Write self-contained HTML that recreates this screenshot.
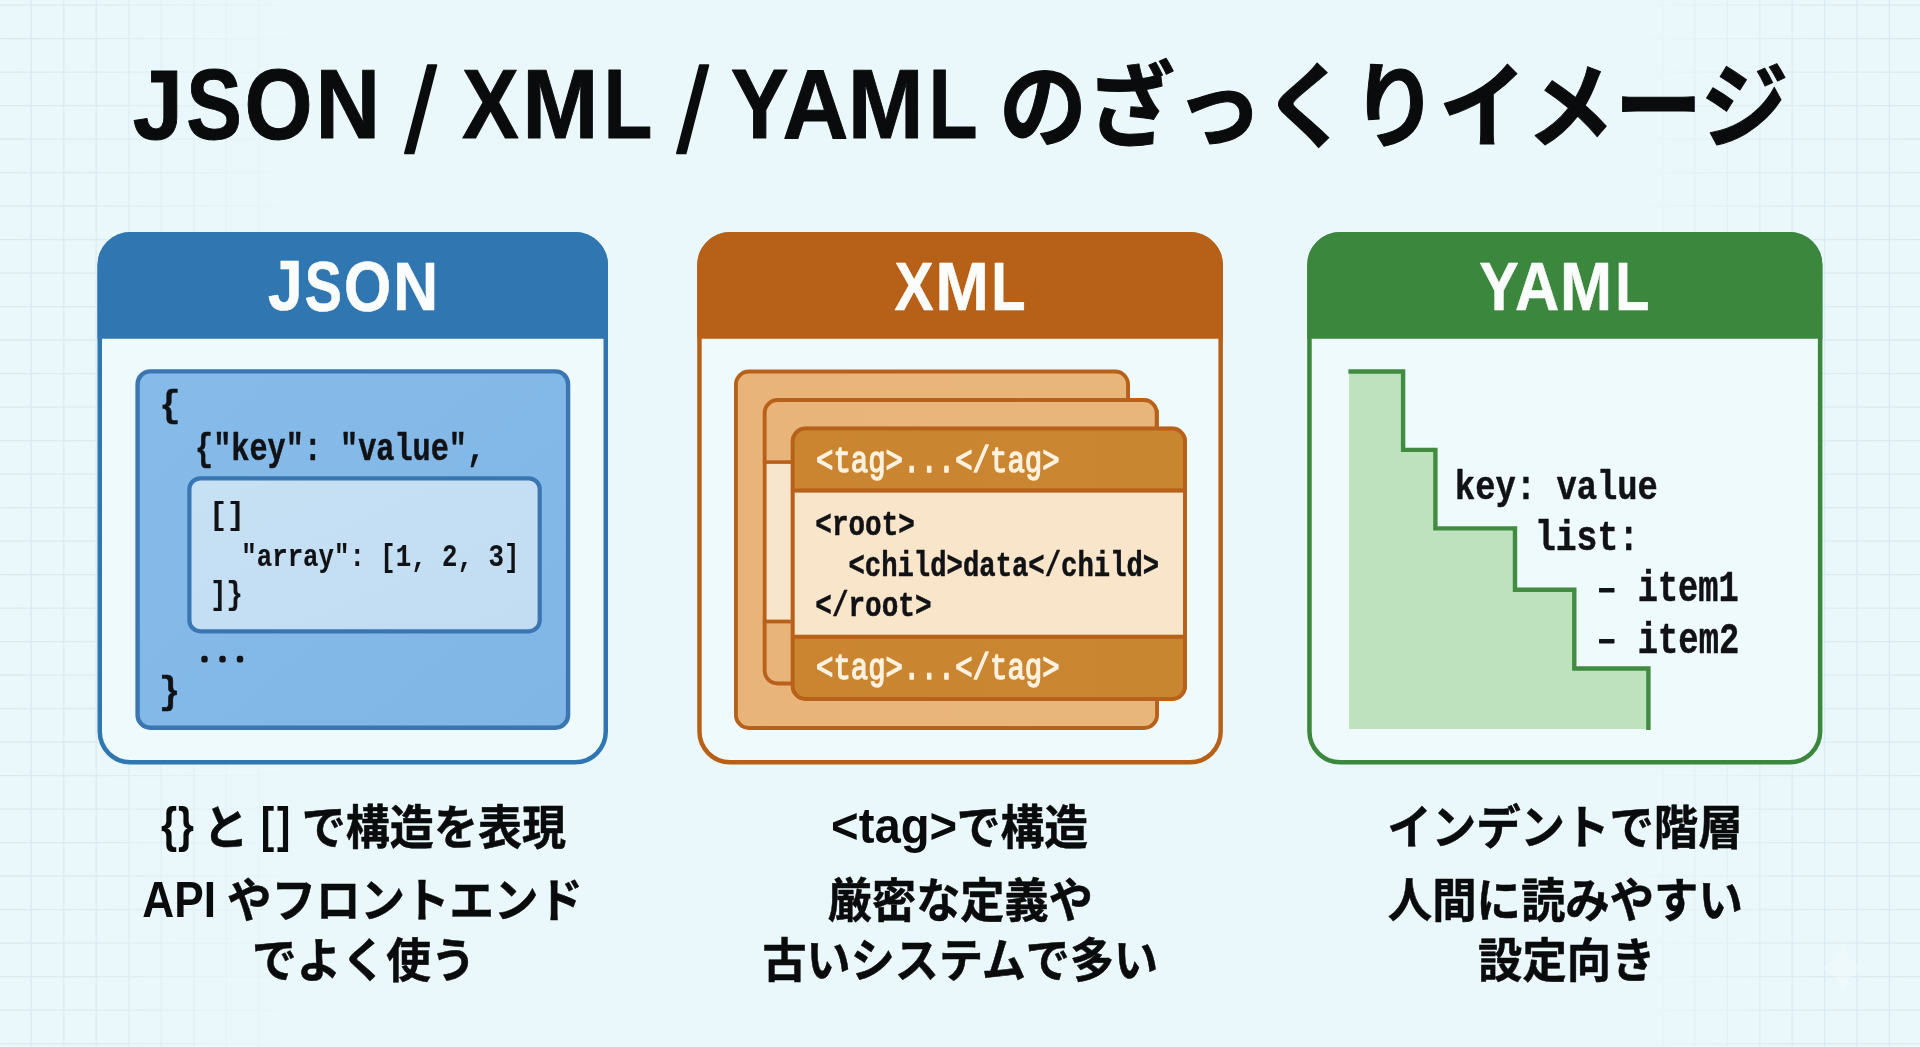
<!DOCTYPE html>
<html lang="ja">
<head>
<meta charset="utf-8">
<title>JSON / XML / YAML のざっくりイメージ</title>
<style>
html,body{margin:0;padding:0;background:#eaf8fb;overflow:hidden}
svg{display:block;will-change:transform}
text{white-space:pre}
</style>
</head>
<body>
<svg width="1920" height="1047" viewBox="0 0 1920 1047">
<rect width="1920" height="1047" fill="#eaf8fb"/>
<defs>
<linearGradient id="gb" x1="0" y1="0" x2="1" y2="1"><stop offset="0" stop-color="#86bbe9"/><stop offset="1" stop-color="#80b6e6"/></linearGradient>
<linearGradient id="gl" x1="0" y1="0" x2="1" y2="1"><stop offset="0" stop-color="#c6e0f4"/><stop offset="1" stop-color="#c2ddf2"/></linearGradient>
<linearGradient id="go" x1="0" y1="0" x2="1" y2="0"><stop offset="0" stop-color="#e9b479"/><stop offset="1" stop-color="#e8b67b"/></linearGradient>
<linearGradient id="gh" x1="0" y1="0" x2="1" y2="0"><stop offset="0" stop-color="#cb8530"/><stop offset="1" stop-color="#c98631"/></linearGradient>
<linearGradient id="gr" gradientUnits="userSpaceOnUse" x1="0" y1="0" x2="1920" y2="0"><stop offset="0" stop-color="#fff"/><stop offset="0.05" stop-color="#ddd"/><stop offset="0.16" stop-color="#000"/><stop offset="0.85" stop-color="#000"/><stop offset="0.93" stop-color="#ccc"/><stop offset="1" stop-color="#fff"/></linearGradient>
<mask id="gm" maskUnits="userSpaceOnUse" x="0" y="0" width="1920" height="1047"><rect width="1920" height="1047" fill="url(#gr)"/></mask>
</defs>
<g stroke="#d9e9f0" stroke-width="1.3" fill="none" mask="url(#gm)">
<path d="M31.2 0V1047M63.8 0V1047M96.2 0V1047M128.8 0V1047M161.2 0V1047M193.8 0V1047M226.2 0V1047M258.8 0V1047M291.2 0V1047M323.8 0V1047M356.2 0V1047M388.8 0V1047M1565.4 0V1047M1597.8 0V1047M1630.2 0V1047M1662.6 0V1047M1695.0 0V1047M1727.4 0V1047M1759.8 0V1047M1792.2 0V1047M1824.6 0V1047M1857.0 0V1047M1889.4 0V1047M0 5.2H1920M0 38.7H1920M0 72.2H1920M0 105.7H1920M0 139.2H1920M0 172.7H1920M0 206.2H1920M0 239.7H1920M0 273.2H1920M0 306.7H1920M0 340.2H1920M0 373.7H1920M0 407.2H1920M0 440.7H1920M0 474.2H1920M0 507.7H1920M0 541.2H1920M0 574.7H1920M0 608.2H1920M0 641.7H1920M0 675.2H1920M0 708.7H1920M0 742.2H1920M0 775.7H1920M0 809.2H1920M0 842.7H1920M0 876.2H1920M0 909.7H1920M0 943.2H1920M0 976.7H1920M0 1010.2H1920M0 1043.7H1920"/>
</g>
<path d="M1843 940 C1846 958 1853 965 1871 968 C1853 971 1846 978 1843 996 C1840 978 1833 971 1815 968 C1833 965 1840 958 1843 940 Z" fill="#f4fbfd" opacity="0.45"/>
<rect x="99.75" y="234.25" width="506.00" height="528.10" rx="30.75" fill="#eefafc" stroke="#3077b2" stroke-width="4.5"/>
<path d="M97.50 338.7 V265.00 A33 33 0 0 1 130.50 232 H575.00 A33 33 0 0 1 608.00 265.00 V338.7 Z" fill="#3077b2"/>
<rect x="137.60" y="371.40" width="430.50" height="356.40" rx="12.80" fill="url(#gb)" stroke="#3a76b2" stroke-width="4.4"/>
<rect x="189.40" y="478.30" width="350.30" height="153.00" rx="10.90" fill="url(#gl)" stroke="#3a76b2" stroke-width="4.2"/>
<rect x="699.45" y="234.25" width="521.20" height="528.10" rx="30.75" fill="#eefafc" stroke="#b76018" stroke-width="4.5"/>
<path d="M697.20 338.7 V265.00 A33 33 0 0 1 730.20 232 H1189.90 A33 33 0 0 1 1222.90 265.00 V338.7 Z" fill="#b76018"/>
<path d="M735.95 384.45 A13 13 0 0 1 748.95 371.45 H1115.05 A13 13 0 0 1 1128.05 384.45 V412 H1157.05 V715.05 A13 13 0 0 1 1144.05 728.05 H748.95 A13 13 0 0 1 735.95 715.05 Z" fill="url(#go)" stroke="#b8611a" stroke-width="3.9"/>
<clipPath id="cm"><rect x="762.7" y="398" width="395.9" height="287.5" rx="15"/></clipPath>
<g clip-path="url(#cm)"><rect x="762.7" y="398" width="395.9" height="287.5" fill="url(#go)"/><rect x="762.7" y="462" width="395.9" height="159.5" fill="#f8e6cc"/><rect x="762.7" y="460.3" width="395.9" height="3.6" fill="#b8611a"/><rect x="762.7" y="619.6" width="395.9" height="3.8" fill="#b8611a"/></g>
<rect x="764.65" y="399.95" width="392.00" height="283.60" rx="13.05" fill="none" stroke="#b8611a" stroke-width="3.9"/>
<clipPath id="cf"><rect x="790.7" y="426.5" width="396.3" height="274.5" rx="15"/></clipPath>
<g clip-path="url(#cf)"><rect x="790.7" y="426.5" width="396.3" height="274.5" fill="url(#gh)"/><rect x="790.7" y="490" width="396.3" height="147" fill="#f8e5ca"/><rect x="790.7" y="488.4" width="396.3" height="4.2" fill="#b8611a"/><rect x="790.7" y="634.7" width="396.3" height="4.1" fill="#b8611a"/></g>
<rect x="792.70" y="428.50" width="392.30" height="270.50" rx="13.00" fill="none" stroke="#b8611a" stroke-width="4.0"/>
<rect x="1309.45" y="234.25" width="510.70" height="528.10" rx="30.75" fill="#eefafc" stroke="#3c873e" stroke-width="4.5"/>
<path d="M1307.20 338.7 V265.00 A33 33 0 0 1 1340.20 232 H1789.40 A33 33 0 0 1 1822.40 265.00 V338.7 Z" fill="#3c873e"/>
<path d="M1349 371.5 H1403.1 V449.9 H1435.4 V528.4 H1515 V589.7 H1574.3 V668.5 H1648.4 V729 H1349 Z" fill="#bde2bd"/>
<path d="M1348.4 371.5 H1403.1 V449.9 H1435.4 V528.4 H1515 V589.7 H1574.3 V668.5 H1648.4 V730" fill="none" stroke="#428c42" stroke-width="4.4" stroke-linejoin="miter"/>
<text font-family="'Liberation Sans', 'Noto Sans CJK JP', sans-serif" font-weight="700" fill="#0a0b0d" stroke="#0a0b0d" stroke-width="1.0" stroke-linejoin="round"><tspan x="132.80" y="138.51" font-size="99.00" textLength="50.22" lengthAdjust="spacingAndGlyphs">J</tspan><tspan x="186.22" y="138.81" font-size="99.44" textLength="55.65" lengthAdjust="spacingAndGlyphs">S</tspan><tspan x="244.44" y="138.81" font-size="99.44" textLength="68.07" lengthAdjust="spacingAndGlyphs">O</tspan><tspan x="315.44" y="138.30" font-size="98.26" textLength="64.62" lengthAdjust="spacingAndGlyphs">N</tspan> <tspan x="404.76" y="152.30" font-size="120.00" textLength="31.80" lengthAdjust="spacingAndGlyphs" font-weight="400" stroke-width="1.6">/</tspan> <tspan x="462.08" y="138.30" font-size="98.26" textLength="56.81" lengthAdjust="spacingAndGlyphs">X</tspan><tspan x="522.32" y="138.30" font-size="98.26" textLength="76.25" lengthAdjust="spacingAndGlyphs">M</tspan><tspan x="603.51" y="138.30" font-size="98.26" textLength="48.85" lengthAdjust="spacingAndGlyphs">L</tspan> <tspan x="676.76" y="152.30" font-size="120.00" textLength="31.80" lengthAdjust="spacingAndGlyphs" font-weight="400" stroke-width="1.6">/</tspan> <tspan x="730.71" y="138.30" font-size="98.26" textLength="57.83" lengthAdjust="spacingAndGlyphs">Y</tspan><tspan x="782.38" y="138.30" font-size="98.26" textLength="65.94" lengthAdjust="spacingAndGlyphs">A</tspan><tspan x="847.84" y="138.30" font-size="98.26" textLength="75.89" lengthAdjust="spacingAndGlyphs">M</tspan><tspan x="928.49" y="138.30" font-size="98.26" textLength="49.08" lengthAdjust="spacingAndGlyphs">L</tspan> <tspan x="999.06" y="140.00" font-size="93.50" textLength="789.50" lengthAdjust="spacingAndGlyphs">のざっくりイメージ</tspan></text>
<text font-family="'Liberation Sans', 'Noto Sans CJK JP', sans-serif" font-weight="700" fill="#fbfdfc" stroke="#fbfdfc" stroke-width="0.6" stroke-linejoin="round"><tspan x="267.93" y="310.40" font-size="69.71" textLength="34.62" lengthAdjust="spacingAndGlyphs">J</tspan><tspan x="304.87" y="310.60" font-size="69.86" textLength="37.16" lengthAdjust="spacingAndGlyphs">S</tspan><tspan x="344.03" y="310.60" font-size="69.86" textLength="47.21" lengthAdjust="spacingAndGlyphs">O</tspan><tspan x="393.33" y="310.40" font-size="69.28" textLength="44.88" lengthAdjust="spacingAndGlyphs">N</tspan></text>
<text font-family="'Liberation Sans', 'Noto Sans CJK JP', sans-serif" font-weight="700" fill="#fbfdfc" stroke="#fbfdfc" stroke-width="0.6" stroke-linejoin="round"><tspan x="894.47" y="310.40" font-size="69.28" textLength="39.08" lengthAdjust="spacingAndGlyphs">X</tspan><tspan x="935.41" y="310.40" font-size="69.28" textLength="53.37" lengthAdjust="spacingAndGlyphs">M</tspan><tspan x="991.29" y="310.40" font-size="69.28" textLength="34.30" lengthAdjust="spacingAndGlyphs">L</tspan></text>
<text font-family="'Liberation Sans', 'Noto Sans CJK JP', sans-serif" font-weight="700" fill="#fbfdfc" stroke="#fbfdfc" stroke-width="0.6" stroke-linejoin="round"><tspan x="1479.27" y="310.40" font-size="69.28" textLength="39.48" lengthAdjust="spacingAndGlyphs">Y</tspan><tspan x="1515.03" y="310.40" font-size="69.28" textLength="44.27" lengthAdjust="spacingAndGlyphs">A</tspan><tspan x="1560.11" y="310.40" font-size="69.28" textLength="52.08" lengthAdjust="spacingAndGlyphs">M</tspan><tspan x="1615.21" y="310.40" font-size="69.28" textLength="34.18" lengthAdjust="spacingAndGlyphs">L</tspan></text>
<text font-family="'Liberation Mono', 'Noto Sans CJK JP', monospace" font-weight="700" fill="#101215" stroke="#101215" stroke-width="0.5" stroke-linejoin="round"><tspan x="159.51" y="415.71" font-size="37.33" textLength="21.01" lengthAdjust="spacingAndGlyphs">{</tspan></text>
<text font-family="'Liberation Mono', 'Noto Sans CJK JP', monospace" font-weight="700" fill="#101215" stroke="#101215" stroke-width="0.5" stroke-linejoin="round"><tspan x="195.03" y="460.00" font-size="38.00" textLength="290.07" lengthAdjust="spacingAndGlyphs">{"key": "value",</tspan></text>
<text font-family="'Liberation Mono', 'Noto Sans CJK JP', monospace" font-weight="700" fill="#101215" stroke="#101215" stroke-width="0.2" stroke-linejoin="round"><tspan x="209.15" y="524.21" font-size="31.87" textLength="35.60" lengthAdjust="spacingAndGlyphs">[]</tspan></text>
<text font-family="'Liberation Mono', 'Noto Sans CJK JP', monospace" font-weight="700" fill="#101215" stroke="#101215" stroke-width="0.1" stroke-linejoin="round"><tspan x="241.32" y="565.60" font-size="32.00" textLength="278.02" lengthAdjust="spacingAndGlyphs">"array": [1, 2, 3]</tspan></text>
<text font-family="'Liberation Mono', 'Noto Sans CJK JP', monospace" font-weight="700" fill="#101215" stroke="#101215" stroke-width="0.2" stroke-linejoin="round"><tspan x="210.30" y="603.87" font-size="33.48" textLength="32.50" lengthAdjust="spacingAndGlyphs">]}</tspan></text>
<text font-family="'Liberation Mono', 'Noto Sans CJK JP', monospace" font-weight="700" fill="#101215" stroke="#101215" stroke-width="0.5" stroke-linejoin="round"><tspan x="158.95" y="702.62" font-size="38.72" textLength="21.18" lengthAdjust="spacingAndGlyphs">}</tspan></text>
<text font-family="'Liberation Mono', 'Noto Sans CJK JP', monospace" font-weight="400" fill="#fdf1df" stroke="#fdf1df" stroke-width="1.5" stroke-linejoin="round"><tspan x="815.98" y="472.00" font-size="37.50" textLength="243.67" lengthAdjust="spacingAndGlyphs">&lt;tag&gt;...&lt;/tag&gt;</tspan></text>
<text font-family="'Liberation Mono', 'Noto Sans CJK JP', monospace" font-weight="700" fill="#101215" stroke="#101215" stroke-width="0.5" stroke-linejoin="round"><tspan x="815.32" y="535.00" font-size="35.00" textLength="99.49" lengthAdjust="spacingAndGlyphs">&lt;root&gt;</tspan></text>
<text font-family="'Liberation Mono', 'Noto Sans CJK JP', monospace" font-weight="700" fill="#101215" stroke="#101215" stroke-width="0.5" stroke-linejoin="round"><tspan x="848.43" y="576.00" font-size="35.00" textLength="310.79" lengthAdjust="spacingAndGlyphs">&lt;child&gt;data&lt;/child&gt;</tspan></text>
<text font-family="'Liberation Mono', 'Noto Sans CJK JP', monospace" font-weight="700" fill="#101215" stroke="#101215" stroke-width="0.5" stroke-linejoin="round"><tspan x="815.31" y="616.20" font-size="35.00" textLength="116.19" lengthAdjust="spacingAndGlyphs">&lt;/root&gt;</tspan></text>
<text font-family="'Liberation Mono', 'Noto Sans CJK JP', monospace" font-weight="400" fill="#fdf1df" stroke="#fdf1df" stroke-width="1.5" stroke-linejoin="round"><tspan x="815.98" y="678.50" font-size="37.50" textLength="243.67" lengthAdjust="spacingAndGlyphs">&lt;tag&gt;...&lt;/tag&gt;</tspan></text>
<text font-family="'Liberation Mono', 'Noto Sans CJK JP', monospace" font-weight="700" fill="#101215" stroke="#101215" stroke-width="0.5" stroke-linejoin="round"><tspan x="1454.83" y="498.80" font-size="41.50" textLength="203.10" lengthAdjust="spacingAndGlyphs">key: value</tspan></text>
<text font-family="'Liberation Mono', 'Noto Sans CJK JP', monospace" font-weight="700" fill="#101215" stroke="#101215" stroke-width="0.5" stroke-linejoin="round"><tspan x="1534.98" y="550.00" font-size="43.00" textLength="104.11" lengthAdjust="spacingAndGlyphs">list:</tspan></text>
<text font-family="'Liberation Mono', 'Noto Sans CJK JP', monospace" font-weight="400" fill="#101215" stroke="#101215" stroke-width="0.9" stroke-linejoin="round"><tspan x="1591.05" y="601.60" font-size="44.00" textLength="31.61" lengthAdjust="spacingAndGlyphs">-</tspan> <tspan x="1637.78" y="601.40" font-size="44.00" textLength="100.80" lengthAdjust="spacingAndGlyphs" font-weight="700" stroke-width="0.5">item1</tspan></text>
<text font-family="'Liberation Mono', 'Noto Sans CJK JP', monospace" font-weight="400" fill="#101215" stroke="#101215" stroke-width="0.9" stroke-linejoin="round"><tspan x="1591.05" y="652.90" font-size="44.00" textLength="31.61" lengthAdjust="spacingAndGlyphs">-</tspan> <tspan x="1637.76" y="652.70" font-size="44.00" textLength="101.49" lengthAdjust="spacingAndGlyphs" font-weight="700" stroke-width="0.5">item2</tspan></text>
<text font-family="'Liberation Sans', 'Noto Sans CJK JP', sans-serif" font-weight="700" fill="#0a0b0d" stroke="#0a0b0d" stroke-width="0" stroke-linejoin="round"><tspan x="160.88" y="841.52" font-size="49.41" textLength="16.12" lengthAdjust="spacingAndGlyphs">{</tspan><tspan x="177.88" y="841.52" font-size="49.41" textLength="15.90" lengthAdjust="spacingAndGlyphs">}</tspan> <tspan x="203.04" y="843.50" font-size="47.10" textLength="45.55" lengthAdjust="spacingAndGlyphs" stroke-width="0.5">と</tspan> <tspan x="260.68" y="841.57" font-size="49.20" textLength="13.45" lengthAdjust="spacingAndGlyphs">[</tspan><tspan x="277.00" y="841.57" font-size="49.20" textLength="13.32" lengthAdjust="spacingAndGlyphs">]</tspan> <tspan x="301.75" y="843.50" font-size="47.10" textLength="264.38" lengthAdjust="spacingAndGlyphs" stroke-width="0.5">で構造を表現</tspan></text>
<text font-family="'Liberation Sans', 'Noto Sans CJK JP', sans-serif" font-weight="700" fill="#0a0b0d" stroke="#0a0b0d" stroke-width="0" stroke-linejoin="round"><tspan x="142.30" y="917.00" font-size="49.57" textLength="73.67" lengthAdjust="spacingAndGlyphs">API</tspan> <tspan x="227.06" y="917.00" font-size="47.10" textLength="355.94" lengthAdjust="spacingAndGlyphs" stroke-width="0.5">やフロントエンド</tspan></text>
<text font-family="'Liberation Sans', 'Noto Sans CJK JP', sans-serif" font-weight="700" fill="#0a0b0d" stroke="#0a0b0d" stroke-width="0.5" stroke-linejoin="round"><tspan x="252.10" y="976.60" font-size="47.10" textLength="223.79" lengthAdjust="spacingAndGlyphs">でよく使う</tspan></text>
<text font-family="'Liberation Sans', 'Noto Sans CJK JP', sans-serif" font-weight="700" fill="#0a0b0d" stroke="#0a0b0d" stroke-width="0" stroke-linejoin="round"><tspan x="831.11" y="842.94" font-size="49.13" textLength="126.12" lengthAdjust="spacingAndGlyphs">&lt;tag&gt;</tspan><tspan x="956.87" y="843.50" font-size="47.10" textLength="131.19" lengthAdjust="spacingAndGlyphs" stroke-width="0.5">で構造</tspan></text>
<text font-family="'Liberation Sans', 'Noto Sans CJK JP', sans-serif" font-weight="700" fill="#0a0b0d" stroke="#0a0b0d" stroke-width="0.5" stroke-linejoin="round"><tspan x="827.85" y="917.00" font-size="47.10" textLength="264.99" lengthAdjust="spacingAndGlyphs">厳密な定義や</tspan></text>
<text font-family="'Liberation Sans', 'Noto Sans CJK JP', sans-serif" font-weight="700" fill="#0a0b0d" stroke="#0a0b0d" stroke-width="0.5" stroke-linejoin="round"><tspan x="762.45" y="976.60" font-size="47.10" textLength="395.77" lengthAdjust="spacingAndGlyphs">古いシステムで多い</tspan></text>
<text font-family="'Liberation Sans', 'Noto Sans CJK JP', sans-serif" font-weight="700" fill="#0a0b0d" stroke="#0a0b0d" stroke-width="0.5" stroke-linejoin="round"><tspan x="1387.35" y="843.50" font-size="47.10" textLength="355.34" lengthAdjust="spacingAndGlyphs">インデントで階層</tspan></text>
<text font-family="'Liberation Sans', 'Noto Sans CJK JP', sans-serif" font-weight="700" fill="#0a0b0d" stroke="#0a0b0d" stroke-width="0.5" stroke-linejoin="round"><tspan x="1387.83" y="917.00" font-size="47.10" textLength="355.00" lengthAdjust="spacingAndGlyphs">人間に読みやすい</tspan></text>
<text font-family="'Liberation Sans', 'Noto Sans CJK JP', sans-serif" font-weight="700" fill="#0a0b0d" stroke="#0a0b0d" stroke-width="0.5" stroke-linejoin="round"><tspan x="1478.10" y="976.60" font-size="47.10" textLength="177.43" lengthAdjust="spacingAndGlyphs">設定向き</tspan></text>
<text x="201.5 219.4 237.0" y="659.5" font-family="'Liberation Mono', 'Noto Sans CJK JP', monospace" font-weight="700" font-size="10" fill="#101215" stroke="#101215" stroke-width="5.0" stroke-linejoin="round" stroke-linecap="round">...</text>

</svg>
</body>
</html>
